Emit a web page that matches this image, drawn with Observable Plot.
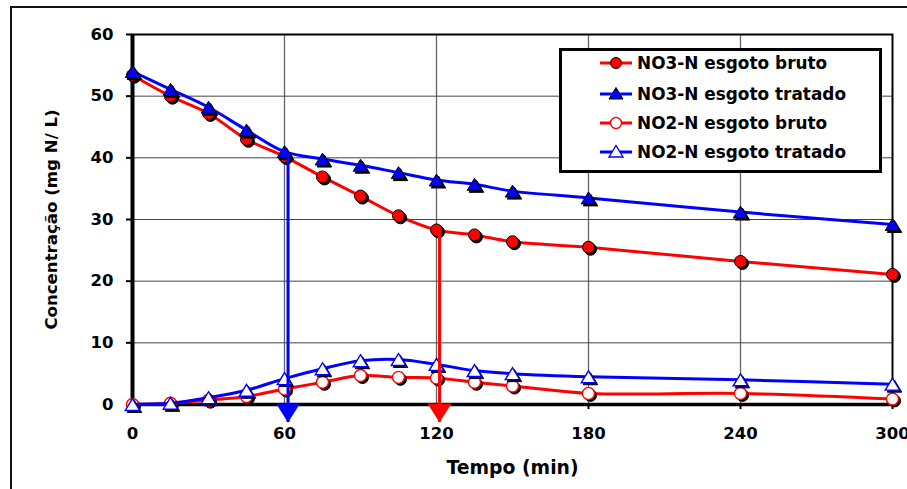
<!DOCTYPE html>
<html>
<head>
<meta charset="utf-8">
<script src="https://cdn.jsdelivr.net/npm/d3@7"></script>
<script src="https://cdn.jsdelivr.net/npm/@observablehq/plot@0.6"></script>
<style>
  html, body { margin: 0; padding: 0; background: #fff; overflow: hidden; }
  #wrap { position: relative; width: 907px; height: 489px; overflow: hidden; background: #fff; }
  #frame { position: absolute; left: 10px; top: 6px; width: 1000px; height: 1000px;
           border-left: 2px solid #111; border-top: 2px solid #111; pointer-events: none; }
  #legend { position: absolute; left: 559px; top: 48px; width: 323px; height: 125px; box-sizing: border-box;
            border: 3px solid #000; background: #fff; font-family: "DejaVu Sans"; font-weight: bold; font-size: 16.9px; }
  .row { position: absolute; left: 0; height: 30px; width: 100%; }
  .row svg { position: absolute; left: 38px; top: 0; }
  .row span { position: absolute; left: 75px; top: 0; line-height: 30px; white-space: nowrap; color: #000; }
</style>
</head>
<body>
<div id="wrap">
  <div id="chart"></div>
  <div id="frame"></div>
  <div id="legend"></div>
</div>
<script>
// ---- data ----
const time = [0, 15, 30, 45, 60, 75, 90, 105, 120, 135, 150, 180, 240, 300];
const no3Bruto   = [53.4, 50.0, 47.2, 43.0, 40.2, 36.9, 33.8, 30.6, 28.3, 27.5, 26.4, 25.5, 23.2, 21.1];
const no3Tratado = [54.0, 51.1, 48.2, 44.5, 41.0, 39.8, 38.8, 37.6, 36.4, 35.7, 34.6, 33.5, 31.2, 29.2];
const no2Bruto   = [0.0, 0.2, 0.7, 1.3, 2.5, 3.6, 4.7, 4.4, 4.3, 3.6, 3.0, 1.8, 1.8, 0.9];
const no2Tratado = [0.0, 0.2, 1.1, 2.3, 4.2, 5.8, 7.1, 7.3, 6.5, 5.5, 5.0, 4.5, 4.0, 3.3];
const seriesNames = ["NO3-N esgoto bruto", "NO3-N esgoto tratado", "NO2-N esgoto bruto", "NO2-N esgoto tratado"];
const xTicks = [0, 60, 120, 180, 240, 300];
const yTicks = [0, 10, 20, 30, 40, 50, 60];
const xTitle = "Tempo (min)";
const yTitle = "Concentração (mg N/ L)";
// annotation arrows (x position, start value, tip value)
const arrowX = [61.4, 121.2];
const arrowTop = [40.8, 28.2];
const arrowTip = [-2.9, -2.9];
const arrowColors = ["#0000ff", "#ff0000"];

// ---- symbols ----
const triUp = { draw(ctx, size) { const r = Math.sqrt(size / Math.PI);
  ctx.moveTo(0, -r * 0.95); ctx.lineTo(r * 1.15, r * 0.95); ctx.lineTo(-r * 1.15, r * 0.95); ctx.closePath(); } };
const arrowHead = { draw(ctx, size) {
  ctx.moveTo(0, 0); ctx.lineTo(-12, -19); ctx.lineTo(12, -19); ctx.closePath(); } };

const styles = [
  { values: no3Bruto,   color: "#ff0000", symbol: "circle", fill: "#ff0000", stroke: "#000", sw: 1, r: 6 },
  { values: no3Tratado, color: "#0000ff", symbol: triUp,    fill: "#0000ff", stroke: "#000", sw: 1, r: 6.3 },
  { values: no2Bruto,   color: "#ff0000", symbol: "circle", fill: "#ffffff", stroke: "#ff0000", sw: 1.4, r: 6 },
  { values: no2Tratado, color: "#0000ff", symbol: triUp,    fill: "#ffffff", stroke: "#0000ff", sw: 1.4, r: 6.3 }
];

const seriesMarks = [];
styles.forEach((s, i) => {
  const data = time.map((t, j) => ({ t, v: s.values[j], name: seriesNames[i] }));
  seriesMarks.push(Plot.line(data, { x: "t", y: "v", stroke: s.color, strokeWidth: 3, curve: "catmull-rom" }));
  seriesMarks.push(Plot.dot(data, { x: "t", y: "v", r: s.r, symbol: s.symbol, fill: "#000", stroke: "#000", strokeWidth: 1, dx: 2, dy: 2 }));
  seriesMarks.push(Plot.dot(data, { x: "t", y: "v", r: s.r, symbol: s.symbol, fill: s.fill, stroke: s.stroke, strokeWidth: s.sw }));
});

const arrows = arrowX.map((x, i) => ({ x, top: arrowTop[i], tip: arrowTip[i], color: arrowColors[i] }));

const chart = Plot.plot({
  width: 907,
  height: 489,
  marginLeft: 132,
  marginRight: 15,
  marginTop: 34,
  marginBottom: 85,
  style: { fontFamily: "DejaVu Sans", fontWeight: "bold", fontSize: "16.5px", color: "#000", background: "transparent" },
  x: { domain: [0, 300] },
  y: { domain: [0, 60] },
  marks: [
    Plot.gridX({ ticks: xTicks.slice(1, -1), stroke: "#666", strokeOpacity: 1, strokeWidth: 1.3 }),
    Plot.gridY({ ticks: yTicks.slice(1, -1), stroke: "#444", strokeOpacity: 1, strokeWidth: 1 }),
    Plot.frame({ stroke: "#000", strokeWidth: 2 }),
    Plot.axisX({ ticks: xTicks, tickSize: 5, tickPadding: 18, label: null, strokeWidth: 2, fontSize: 16.5, fontWeight: "bold" }),
    Plot.axisY({ ticks: yTicks, tickSize: 6, tickPadding: 13, label: null, strokeWidth: 2, fontSize: 16.5, fontWeight: "bold" }),
    Plot.ruleX([0], { stroke: "#000", strokeWidth: 4 }),
    Plot.ruleY([0], { stroke: "#000", strokeWidth: 3.5 }),
    ...seriesMarks,
    Plot.ruleX(arrows, { x: "x", y1: "top", y2: "tip", stroke: d => d.color, strokeWidth: 3 }),
    Plot.dot(arrows, { x: "x", y: "tip", symbol: arrowHead, fill: d => d.color, stroke: "none", r: 5 }),
    Plot.text([yTitle], { frameAnchor: "left", textAnchor: "middle", lineAnchor: "middle", dx: -81, rotate: -90, text: d => d, fontSize: 16.6, fontWeight: "bold" }),
    Plot.text([xTitle], { frameAnchor: "bottom", textAnchor: "middle", lineAnchor: "middle", dy: 63, text: d => d, fontSize: 18.8, fontWeight: "bold" })
  ]
});
document.getElementById("chart").appendChild(chart);

// ---- legend ----
const legend = d3.select("#legend");
const rowCenters = [12, 43, 72, 101];
styles.forEach((s, i) => {
  const row = legend.append("div").attr("class", "row").style("top", (rowCenters[i] - 15) + "px");
  const svg = row.append("svg").attr("width", 34).attr("height", 30);
  svg.append("line").attr("x1", 0).attr("x2", 32).attr("y1", 15).attr("y2", 15)
     .attr("stroke", s.color).attr("stroke-width", 3);
  if (s.symbol === "circle") {
    svg.append("circle").attr("cx", 16).attr("cy", 15).attr("r", 5.5)
       .attr("fill", s.fill).attr("stroke", s.stroke).attr("stroke-width", s.sw);
  } else {
    svg.append("path").attr("d", "M16,8.5L23,20L9,20Z")
       .attr("fill", s.fill).attr("stroke", s.stroke).attr("stroke-width", s.sw);
  }
  row.append("span").text(seriesNames[i]);
});
</script>
</body>
</html>
